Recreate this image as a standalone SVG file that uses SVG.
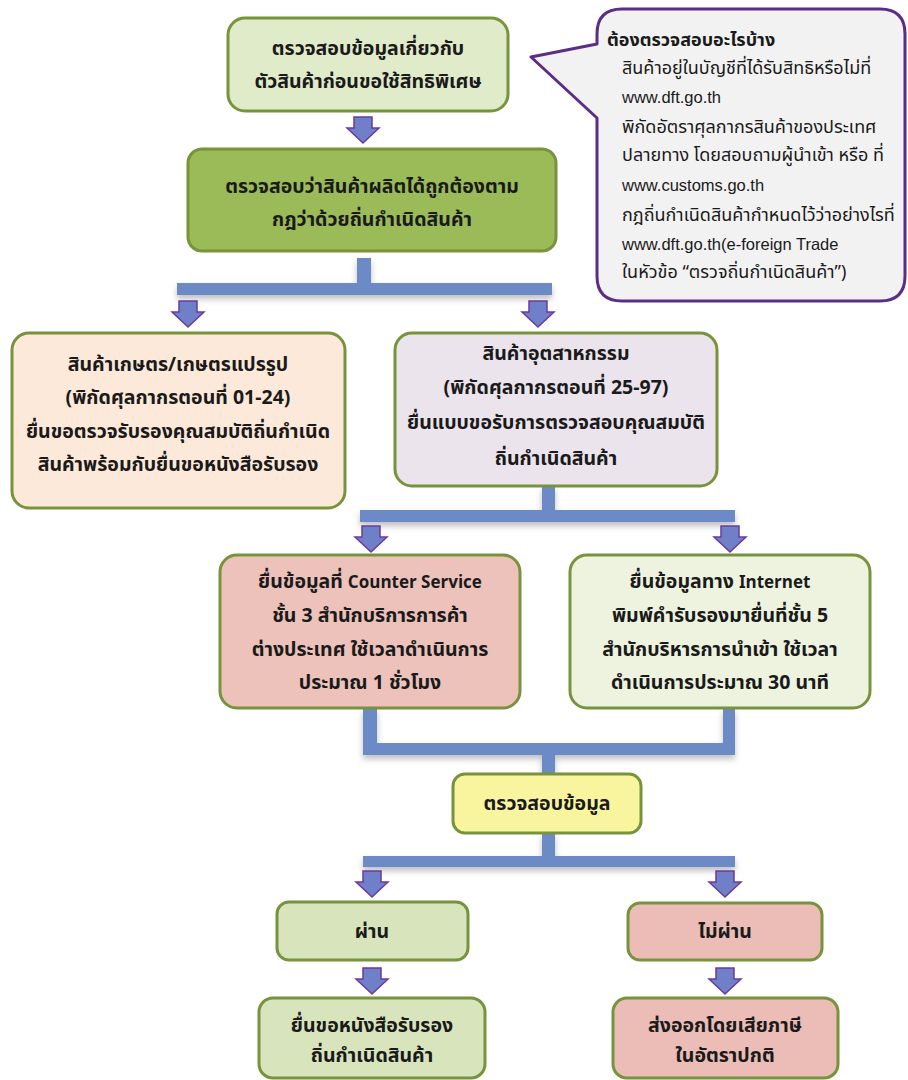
<svg xmlns="http://www.w3.org/2000/svg" width="908" height="1080" viewBox="0 0 908 1080">
<defs>
<style>
.box{stroke:#77933c;stroke-width:3}
.t{font-family:"Noto Sans Thai","Noto Sans","DejaVu Sans",sans-serif;font-size:19.5px;font-weight:bold;fill:#1a1a1a;text-anchor:middle}
.c{font-family:"Noto Sans Thai","Noto Sans","DejaVu Sans",sans-serif;font-size:18px;fill:#1a1a1a}
.l{font-family:"Liberation Sans","Noto Sans",sans-serif;font-size:16.5px}
.s{font-size:17px}
.bar{fill:#6c8ac5}
.arr{fill:#6f80c9;stroke:#6a3aa0;stroke-width:1.5;stroke-linejoin:miter}
</style>
<filter id="sh" x="-5%" y="-50%" width="110%" height="250%">
<feDropShadow dx="0" dy="4" stdDeviation="3" flood-color="#000" flood-opacity="0.25"/>
</filter>
<path id="a" d="M-9,0 H9 V11 H16 L0,26 L-16,11 H-9 Z"/>
</defs>
<rect width="908" height="1080" fill="#fff"/>

<g id="connectors">
<g filter="url(#sh)">
<rect class="bar" x="357" y="258" width="14" height="30"/>
<rect class="bar" x="177" y="283" width="375" height="12"/>
<rect class="bar" x="542" y="486" width="13" height="28"/>
<rect class="bar" x="360" y="510" width="375" height="12"/>
<rect class="bar" x="363" y="708" width="14" height="40"/>
<rect class="bar" x="723" y="708" width="12" height="40"/>
<rect class="bar" x="363" y="743" width="372" height="12"/>
<rect class="bar" x="542" y="750" width="13" height="24"/>
<rect class="bar" x="542" y="833" width="13" height="28"/>
<rect class="bar" x="363" y="856" width="372" height="11"/>
</g>
<use href="#a" class="arr" x="363" y="117"/>
<use href="#a" class="arr" x="188" y="301"/>
<use href="#a" class="arr" x="538" y="301"/>
<use href="#a" class="arr" x="371" y="526"/>
<use href="#a" class="arr" x="730" y="526"/>
<use href="#a" class="arr" x="372" y="871"/>
<use href="#a" class="arr" x="725" y="871"/>
<use href="#a" class="arr" x="372" y="968"/>
<use href="#a" class="arr" x="725" y="968"/>
</g>

<g id="n1">
<rect class="box" x="228" y="18" width="280" height="93" rx="17" fill="#e0ebc9"/>
<text class="t" x="368" y="55">ตรวจสอบข้อมูลเกี่ยวกับ</text>
<text class="t" x="368" y="88">ตัวสินค้าก่อนขอใช้สิทธิพิเศษ</text>
</g>

<g id="n2">
<rect class="box" x="188" y="149" width="368" height="102" rx="14" fill="#9bbb59"/>
<text class="t" x="372" y="193">ตรวจสอบว่าสินค้าผลิตได้ถูกต้องตาม</text>
<text class="t" x="372" y="226">กฎว่าด้วยถิ่นกำเนิดสินค้า</text>
</g>

<g id="callout">
<path d="M622,9 H880 Q905,9 905,34 V276 Q905,301 880,301 H622 Q597,301 597,276 V118 L531,57 L597,44 V34 Q597,9 622,9 Z" fill="#f2f2f2" stroke="#5b2d86" stroke-width="3" stroke-linejoin="round"/>
<text class="c" x="607" y="46" font-weight="bold" font-size="16px">ต้องตรวจสอบอะไรบ้าง</text>
<text class="c" x="622" y="74">สินค้าอยู่ในบัญชีที่ได้รับสิทธิหรือไม่ที่</text>
<text class="c l" x="622" y="103">www.dft.go.th</text>
<text class="c" x="622" y="133">พิกัดอัตราศุลกากรสินค้าของประเทศ</text>
<text class="c" x="622" y="161">ปลายทาง โดยสอบถามผู้นำเข้า หรือ ที่</text>
<text class="c l" x="622" y="191">www.customs.go.th</text>
<text class="c" x="622" y="221">กฎถิ่นกำเนิดสินค้ากำหนดไว้ว่าอย่างไรที่</text>
<text class="c l" x="622" y="250">www.dft.go.th(e-foreign Trade</text>
<text class="c" x="622" y="278">ในหัวข้อ “ตรวจถิ่นกำเนิดสินค้า”)</text>
</g>

<g id="n3">
<rect class="box" x="12" y="333" width="333" height="175" rx="17" fill="#fde9d9"/>
<text class="t" x="178" y="371">สินค้าเกษตร/เกษตรแปรรูป</text>
<text class="t" x="178" y="404">(พิกัดศุลกากรตอนที่ 01-24)</text>
<text class="t" x="178" y="438">ยื่นขอตรวจรับรองคุณสมบัติถิ่นกำเนิด</text>
<text class="t" x="178" y="471">สินค้าพร้อมกับยื่นขอหนังสือรับรอง</text>
</g>

<g id="n4">
<rect class="box" x="395" y="333" width="322" height="153" rx="17" fill="#ebe4ec"/>
<text class="t" x="556" y="360">สินค้าอุตสาหกรรม</text>
<text class="t" x="556" y="394">(พิกัดศุลกากรตอนที่ 25-97)</text>
<text class="t" x="556" y="429">ยื่นแบบขอรับการตรวจสอบคุณสมบัติ</text>
<text class="t" x="556" y="465">ถิ่นกำเนิดสินค้า</text>
</g>

<g id="n5">
<rect class="box" x="220" y="555" width="300" height="153" rx="17" fill="#edc2bb"/>
<text class="t" x="370" y="588">ยื่นข้อมูลที่ <tspan class="s">Counter Service</tspan></text>
<text class="t" x="370" y="622">ชั้น 3 สำนักบริการการค้า</text>
<text class="t" x="370" y="656">ต่างประเทศ ใช้เวลาดำเนินการ</text>
<text class="t" x="370" y="689">ประมาณ 1 ชั่วโมง</text>
</g>

<g id="n6">
<rect class="box" x="570" y="555" width="300" height="153" rx="17" fill="#eef3df"/>
<text class="t" x="720" y="588">ยื่นข้อมูลทาง <tspan class="s">Internet</tspan></text>
<text class="t" x="720" y="622">พิมพ์คำรับรองมายื่นที่ชั้น 5</text>
<text class="t" x="720" y="656">สำนักบริหารการนำเข้า ใช้เวลา</text>
<text class="t" x="720" y="689">ดำเนินการประมาณ 30 นาที</text>
</g>

<g id="n7">
<rect class="box" x="453" y="774" width="188" height="59" rx="12" fill="#f9f59f"/>
<text class="t" x="547" y="810">ตรวจสอบข้อมูล</text>
</g>

<g id="n8">
<rect class="box" x="277" y="902" width="191" height="58" rx="12" fill="#d8e4bc"/>
<text class="t" x="372" y="938">ผ่าน</text>
</g>

<g id="n9">
<rect class="box" x="628" y="903" width="194" height="57" rx="12" fill="#ebbdb6"/>
<text class="t" x="725" y="938">ไม่ผ่าน</text>
</g>

<g id="n10">
<rect class="box" x="259" y="998" width="226" height="80" rx="14" fill="#d8e4bc"/>
<text class="t" x="372" y="1032">ยื่นขอหนังสือรับรอง</text>
<text class="t" x="372" y="1062">ถิ่นกำเนิดสินค้า</text>
</g>

<g id="n11">
<rect class="box" x="613" y="998" width="225" height="80" rx="14" fill="#ebbdb6"/>
<text class="t" x="725" y="1032">ส่งออกโดยเสียภาษี</text>
<text class="t" x="725" y="1062">ในอัตราปกติ</text>
</g>
</svg>
